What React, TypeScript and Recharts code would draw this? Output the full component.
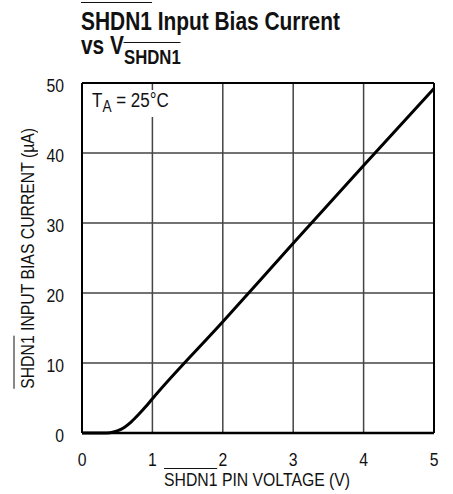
import React from "react";
import {
  CartesianGrid,
  Line,
  LineChart,
  ReferenceLine,
  XAxis,
  YAxis,
} from "recharts";

// Pin voltage (V) vs input bias current (uA) at 25°C
const voltage = [0, 0.1, 0.2, 0.3, 0.4, 0.5, 0.6, 0.7, 0.8, 0.9, 1, 2, 3, 4, 5];
const biasCurrent = [0, 0, 0, 0, 0.05, 0.3, 0.8, 1.6, 2.6, 3.7, 4.9, 15.9, 27.1, 38.2, 49.2];

const xTicks = [0, 1, 2, 3, 4, 5];
const yTicks = [0, 10, 20, 30, 40, 50];

const data = voltage.map((v, i) => ({ v, i: biasCurrent[i] }));

// no Helvetica Condensed here, so squeeze Liberation Sans horizontally
const FONT = '"Liberation Sans", Arial, sans-serif';
const SQUEEZE = 0.83;

function Over({ children, top }: { children: React.ReactNode; top: number }) {
  return (
    <span style={{ position: "relative" }}>
      {children}
      <span
        style={{
          position: "absolute",
          left: 0,
          right: 0,
          top,
          borderTop: "1.8px solid #111",
        }}
      />
    </span>
  );
}

function XTick(props: any) {
  const { x, y, payload } = props;
  return (
    <g transform={`translate(${x},${y}) scale(${SQUEEZE},1)`}>
      <text x={0} y={27} textAnchor="middle" fontSize={19} fontFamily={FONT} fill="#111">
        {payload.value}
      </text>
    </g>
  );
}

function YTick(props: any) {
  const { x, y, payload } = props;
  return (
    <g transform={`translate(${x},${y}) scale(${SQUEEZE},1)`}>
      <text x={0} y={8.5} textAnchor="end" fontSize={19} fontFamily={FONT} fill="#111">
        {payload.value}
      </text>
    </g>
  );
}

const titleStyle: React.CSSProperties = {
  position: "absolute",
  left: 81,
  fontSize: 25,
  lineHeight: "22px",
  fontWeight: "bold",
  whiteSpace: "nowrap",
  transform: "scaleX(0.836)",
  transformOrigin: "left",
};

export default function App() {
  return (
    <div
      style={{
        position: "fixed",
        top: 0,
        left: 0,
        width: 453,
        height: 494,
        background: "#fff",
        fontFamily: FONT,
        color: "#111",
        overflow: "hidden",
      }}
    >
      <LineChart
        width={453}
        height={494}
        data={data}
        margin={{ top: 83, right: 19, bottom: 0, left: 0 }}
      >
        <CartesianGrid stroke="#444" strokeWidth={1.5} />
        <XAxis
          dataKey="v"
          type="number"
          domain={[0, 5]}
          ticks={xTicks}
          height={61}
          tickLine={false}
          axisLine={{ stroke: "#000", strokeWidth: 2.5 }}
          tick={<XTick />}
          tickMargin={0}
        />
        <YAxis
          type="number"
          domain={[0, 50]}
          ticks={yTicks}
          width={82}
          tickLine={false}
          axisLine={{ stroke: "#000", strokeWidth: 2 }}
          tick={<YTick />}
          tickMargin={12}
        />
        <ReferenceLine y={50} stroke="#000" strokeWidth={2} />
        <ReferenceLine x={5} stroke="#000" strokeWidth={2} />
        <Line
          dataKey="i"
          type="monotone"
          stroke="#000"
          strokeWidth={3}
          dot={false}
          isAnimationActive={false}
        />
      </LineChart>

      {/* title */}
      <div style={{ ...titleStyle, top: 10.4 }}>
        <Over top={-5.5}>SHDN1</Over> Input Bias Current
      </div>
      <div style={{ ...titleStyle, top: 34.4 }}>
        vs V
        <span style={{ fontSize: 20, position: "relative", top: 9.3 }}>
          <Over top={-3.5}>SHDN1</Over>
        </span>
      </div>

      {/* annotation, on a white patch that breaks the grid line like the original */}
      <div
        style={{
          position: "absolute",
          left: 92,
          top: 89.7,
          fontSize: 20,
          lineHeight: 1,
          whiteSpace: "nowrap",
          transform: "scaleX(0.85)",
          transformOrigin: "left",
          background: "#fff",
          paddingBottom: 7,
        }}
      >
        T<span style={{ fontSize: 16, position: "relative", top: 5 }}>A</span> = 25°C
      </div>

      {/* x-axis title */}
      <div
        style={{
          position: "absolute",
          left: 81,
          width: 352,
          top: 470,
          fontSize: 19,
          lineHeight: 1,
          textAlign: "center",
          whiteSpace: "nowrap",
        }}
      >
        <span
          style={{
            display: "inline-block",
            transform: `scaleX(${SQUEEZE})`,
            transformOrigin: "center",
          }}
        >
          <Over top={-1.5}>SHDN1</Over> PIN VOLTAGE (V)
        </span>
      </div>

      {/* y-axis title */}
      <div
        style={{
          position: "absolute",
          left: 26.7 - 200,
          top: 258 - 9.5,
          width: 400,
          height: 19,
          fontSize: 19,
          lineHeight: "19px",
          textAlign: "center",
          whiteSpace: "nowrap",
          transform: "rotate(-90deg)",
        }}
      >
        <span
          style={{
            display: "inline-block",
            transform: `scaleX(${SQUEEZE})`,
            transformOrigin: "center",
          }}
        >
          <Over top={-3.5}>SHDN1</Over> INPUT BIAS CURRENT (µA)
        </span>
      </div>
    </div>
  );
}
